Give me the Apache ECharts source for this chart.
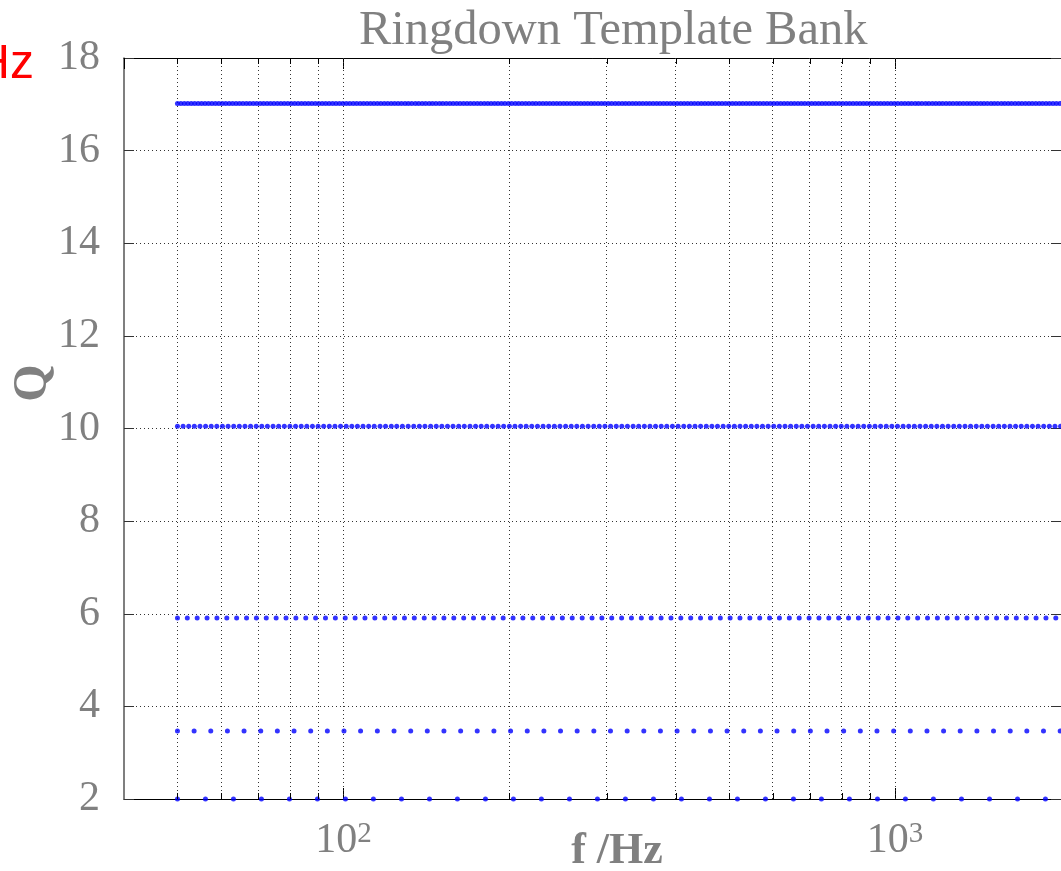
<!DOCTYPE html>
<html>
<head>
<meta charset="utf-8">
<script src="https://cdn.jsdelivr.net/npm/echarts@6/dist/echarts.min.js"></script>
<style>
  html, body { margin: 0; padding: 0; background: #ffffff; }
  #chart { width: 1061px; height: 871px; }
</style>
</head>
<body>
<div id="chart"></div>
<script>
// Quality factor of each template row
const qValues = [2, 3.47, 5.91, 10.05, 17.02];

// Template centre frequencies (Hz) along each row
const fQ2 = [50, 56.2, 63.17, 71.0, 79.81, 89.70, 100.83, 113.3, 127.4, 143.2, 160.9, 180.9, 203.3, 228.5, 256.9, 288.7,
  324.5, 364.8, 410.0, 460.9, 518.0, 582.3, 654.5, 735.6, 826.8, 929.4, 1044.6, 1174, 1320, 1484, 1668, 1874];

const fQ3 = [50, 53.60, 57.46, 61.60, 66.03, 70.79, 75.88, 81.35, 87.21, 93.49, 100.22, 107.4, 115.2, 123.5, 132.4, 141.9,
  152.1, 163.1, 174.8, 187.4, 200.9, 215.4, 230.9, 247.5, 265.3, 284.4, 304.9, 326.9, 350.4, 375.6, 402.7, 431.7,
  462.8, 496.1, 531.8, 570.1, 611.2, 655.2, 702.4, 753.0, 807.2, 865.3, 927.6, 994.4, 1066, 1143, 1225, 1313,
  1408, 1509, 1618, 1734, 1859, 1993];

const fQ6 = [50.00, 52.10, 54.29, 56.58, 58.96, 61.44, 64.02, 66.72, 69.52, 72.45, 75.50, 78.67, 81.98, 85.43, 89.02, 92.77,
  96.67, 100.74, 104.98, 109.39, 114.0, 118.8, 123.8, 129.0, 134.4, 140.1, 146.0, 152.1, 158.5, 165.2, 172.1, 179.4,
  186.9, 194.8, 203.0, 211.5, 220.4, 229.7, 239.4, 249.4, 259.9, 270.9, 282.3, 294.1, 306.5, 319.4, 332.8, 346.8,
  361.4, 376.6, 392.5, 409.0, 426.2, 444.1, 462.8, 482.3, 502.4, 523.5, 545.5, 568.5, 592.4, 617.3, 643.3, 670.4,
  698.6, 728.0, 758.6, 790.5, 823.8, 858.5, 894.6, 932.2, 971.4, 1012.3, 1054.9, 1099.3, 1145.5, 1193.7, 1243.9, 1296.2,
  1350.7, 1407.5, 1466.7, 1528.4, 1592.7, 1659.7, 1729.5, 1802.3, 1878.1, 1957.1];

const fQ10 = [50.00, 51.19, 52.41, 53.65, 54.93, 56.23, 57.57, 58.93, 60.33, 61.77,
  63.24, 64.74, 66.28, 67.85, 69.46, 71.11, 72.80, 74.53, 76.30, 78.12,
  79.97, 81.87, 83.82, 85.81, 87.85, 89.94, 92.07, 94.26, 96.50, 98.79,
  101.15, 103.55, 106.0, 108.5, 111.1, 113.7, 116.5, 119.2, 122.1, 124.9,
  127.9, 131.0, 134.1, 137.3, 140.5, 143.9, 147.3, 150.8, 154.4, 158.0,
  161.8, 165.6, 169.6, 173.6, 177.7, 181.9, 186.3, 190.7, 195.2, 199.9,
  204.6, 209.5, 214.4, 219.5, 224.8, 230.1, 235.6, 241.2, 246.9, 252.8,
  258.8, 264.9, 271.2, 277.7, 284.3, 291.0, 297.9, 305.0, 312.3, 319.7,
  327.3, 335.1, 343.0, 351.2, 359.5, 368.0, 376.8, 385.7, 394.9, 404.3,
  414.0, 423.8, 433.9, 444.2, 454.8, 465.6, 476.6, 488.0, 499.6, 511.4,
  523.6, 536.0, 548.8, 561.8, 575.1, 588.8, 602.8, 617.1, 631.8, 646.8,
  662.2, 677.9, 694.0, 710.5, 727.4, 744.7, 762.4, 780.5, 799.0, 818.0,
  837.4, 857.3, 877.7, 898.6, 919.9, 941.8, 964.1, 987.1, 1010.5, 1034.5,
  1059.1, 1084.2, 1110.0, 1136.4, 1163.4, 1191.0, 1219.3, 1248.3, 1278.0, 1308.3,
  1339.4, 1371.2, 1403.8, 1437.2, 1471.3, 1506.3, 1542.1, 1578.7, 1616.2, 1654.6,
  1693.9, 1734.2, 1775.4, 1817.5, 1860.7, 1904.9, 1950.2, 1996.5];

const fQ17 = [50.00, 50.72, 51.46, 52.21, 52.96, 53.73, 54.51, 55.30, 56.10, 56.91, 57.74, 58.58, 59.43, 60.29, 61.16, 62.05,
  62.95, 63.86, 64.78, 65.72, 66.68, 67.64, 68.62, 69.62, 70.63, 71.65, 72.69, 73.74, 74.81, 75.90, 77.00, 78.11,
  79.25, 80.39, 81.56, 82.74, 83.94, 85.16, 86.39, 87.64, 88.91, 90.20, 91.51, 92.84, 94.18, 95.55, 96.93, 98.34,
  99.76, 101.21, 102.68, 104.16, 105.67, 107.21, 108.76, 110.34, 111.94, 113.56, 115.20, 116.87, 118.57, 120.29, 122.03, 123.80,
  125.6, 127.4, 129.3, 131.1, 133.0, 135.0, 136.9, 138.9, 140.9, 143.0, 145.0, 147.1, 149.3, 151.4, 153.6, 155.9,
  158.1, 160.4, 162.7, 165.1, 167.5, 169.9, 172.4, 174.9, 177.4, 180.0, 182.6, 185.2, 187.9, 190.6, 193.4, 196.2,
  199.1, 201.9, 204.9, 207.8, 210.8, 213.9, 217.0, 220.2, 223.3, 226.6, 229.9, 233.2, 236.6, 240.0, 243.5, 247.0,
  250.6, 254.2, 257.9, 261.7, 265.4, 269.3, 273.2, 277.2, 281.2, 285.2, 289.4, 293.6, 297.8, 302.1, 306.5, 311.0,
  315.5, 320.1, 324.7, 329.4, 334.2, 339.0, 343.9, 348.9, 354.0, 359.1, 364.3, 369.6, 374.9, 380.4, 385.9, 391.5,
  397.2, 402.9, 408.8, 414.7, 420.7, 426.8, 433.0, 439.3, 445.6, 452.1, 458.6, 465.3, 472.0, 478.9, 485.8, 492.9,
  500.0, 507.2, 514.6, 522.1, 529.6, 537.3, 545.1, 553.0, 561.0, 569.1, 577.4, 585.8, 594.3, 602.9, 611.6, 620.5,
  629.5, 638.6, 647.8, 657.2, 666.8, 676.4, 686.2, 696.2, 706.3, 716.5, 726.9, 737.4, 748.1, 759.0, 770.0, 781.1,
  792.5, 803.9, 815.6, 827.4, 839.4, 851.6, 863.9, 876.4, 889.1, 902.0, 915.1, 928.4, 941.8, 955.5, 969.3, 983.4,
  997.6, 1012, 1027, 1042, 1057, 1072, 1088, 1103, 1119, 1136, 1152, 1169, 1186, 1203, 1220, 1238,
  1256, 1274, 1293, 1311, 1330, 1350, 1369, 1389, 1409, 1430, 1450, 1471, 1493, 1514, 1536, 1559,
  1581, 1604, 1627, 1651, 1675, 1699, 1724, 1749, 1774, 1800, 1826, 1852, 1879, 1906, 1934, 1962,
  1991];

const rowFreqs = [fQ2, fQ3, fQ6, fQ10, fQ17];

// Axis ranges and grid-line positions
const fMin = 40, fMax = 2000;
const qMin = 2, qMax = 18, qStep = 2;
const minorFreqs = [50, 60, 70, 80, 90, 200, 300, 400, 500, 600, 700, 800, 900, 2000];
const majorFreqs = [100, 1000];

const titleText = 'Ringdown Template Bank';
const xTitle = 'f /Hz';
const yTitle = 'Q';
const cornerText = 'Hz';

const serif = "'Liberation Serif', 'Times New Roman', serif";
const gray = '#808080';
const dotted = [1, 3];

const chart = echarts.init(document.getElementById('chart'), null, { renderer: 'canvas' });

function expLabel(v) {
  const e = Math.log10(v);
  const r = Math.round(e);
  if (Math.abs(e - r) > 1e-6) return '';
  return '{b|10}{s|' + r + '}';
}

const xAxisBase = {
  type: 'log', logBase: 10, min: fMin, max: fMax, gridIndex: 0,
  splitLine: { show: false }, minorTick: { show: false }
};

const series = rowFreqs.map((fs, i) => ({
  type: 'scatter',
  name: 'Q' + qValues[i],
  data: fs.map(f => [f, qValues[i]]),
  symbol: 'circle',
  symbolSize: 5,
  itemStyle: { color: '#0000ff' },
  z: 5,
  silent: true
}));

// Vertical dotted grid lines at the decade sub-divisions
series.push({
  type: 'line',
  data: [],
  z: 1,
  silent: true,
  markLine: {
    silent: true,
    symbol: 'none',
    label: { show: false },
    lineStyle: { type: dotted, color: '#333', width: 1 },
    data: minorFreqs.concat(majorFreqs).map(f => ({ xAxis: f }))
  }
});

chart.setOption({
  animation: false,
  backgroundColor: '#ffffff',
  title: {
    text: titleText,
    left: 354, top: 2,
    textStyle: { fontFamily: serif, fontSize: 48.5, fontWeight: 'normal', color: gray }
  },
  grid: { left: 124, top: 58, width: 941, height: 741 },
  xAxis: [
    Object.assign({}, xAxisBase, {
      position: 'bottom',
      axisLine: { show: true, lineStyle: { color: '#000', width: 1 } },
      axisTick: { show: true, inside: true, length: 11, lineStyle: { color: '#000' } },
      axisLabel: {
        show: true, margin: 21, showMinLabel: false, showMaxLabel: false,
        formatter: expLabel,
        rich: {
          b: { fontFamily: serif, fontSize: 42, color: gray },
          s: { fontFamily: serif, fontSize: 29, color: gray, verticalAlign: 'top' }
        }
      }
    }),
    Object.assign({}, xAxisBase, {
      position: 'top',
      axisLine: { show: true, lineStyle: { color: '#000', width: 1 } },
      axisTick: { show: true, inside: true, length: 11, lineStyle: { color: '#000' } },
      axisLabel: { show: false }
    })
  ],
  yAxis: [
    {
      type: 'value', min: qMin, max: qMax, interval: qStep, position: 'left',
      axisLine: { show: true, lineStyle: { color: '#555', width: 1.5 } },
      axisTick: { show: true, inside: true, length: 10, lineStyle: { color: '#333' } },
      axisLabel: { margin: 24, fontFamily: serif, fontSize: 42, color: gray },
      splitLine: { show: true, lineStyle: { type: dotted, color: '#333', width: 1 } }
    },
    {
      type: 'value', min: qMin, max: qMax, interval: qStep, position: 'right',
      axisLine: { show: true, lineStyle: { color: '#333', width: 1 } },
      axisTick: { show: true, inside: true, length: 10, lineStyle: { color: '#333' } },
      axisLabel: { show: false },
      splitLine: { show: false }
    }
  ],
  series: series
});

// Short minor ticks on the bottom and top frame edges, placed through the x scale
const yBottom = chart.convertToPixel({ yAxisIndex: 0 }, qMin);
const yTop = chart.convertToPixel({ yAxisIndex: 0 }, qMax);
const tickEls = [];
minorFreqs.forEach(f => {
  const x = Math.round(chart.convertToPixel({ xAxisIndex: 0 }, f)) + 0.5;
  tickEls.push({ type: 'line', silent: true, z: 6, shape: { x1: x, y1: yBottom, x2: x, y2: yBottom - 6 }, style: { stroke: '#000', lineWidth: 1 } });
  tickEls.push({ type: 'line', silent: true, z: 6, shape: { x1: x, y1: yTop, x2: x, y2: yTop + 6 }, style: { stroke: '#000', lineWidth: 1 } });
});

chart.setOption({
  graphic: tickEls.concat([
    {
      type: 'text', x: 617, y: 852, silent: true,
      style: { text: xTitle, fontFamily: serif, fontSize: 44, fontWeight: 'bold', fill: gray, align: 'center', verticalAlign: 'middle' }
    },
    {
      type: 'text', x: 34, y: 383, rotation: Math.PI / 2, silent: true,
      style: { text: yTitle, fontFamily: serif, fontSize: 48, fontWeight: 'bold', fill: gray, align: 'center', verticalAlign: 'middle' }
    },
    {
      type: 'text', x: 34, y: 65, silent: true,
      style: { text: cornerText, fontFamily: "'Liberation Sans', Arial, sans-serif", fontSize: 48, fill: '#ff0000', align: 'right', verticalAlign: 'middle' }
    }
  ])
});
</script>
</body>
</html>
